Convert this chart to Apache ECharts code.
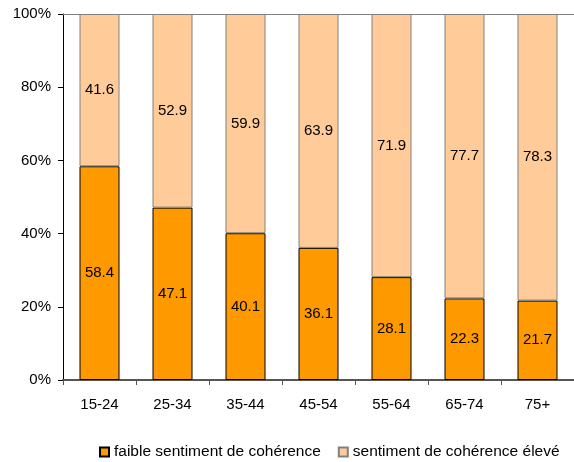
<!DOCTYPE html>
<html>
<head>
<meta charset="utf-8">
<script src="https://cdn.jsdelivr.net/npm/echarts@6/dist/echarts.min.js"></script>
<style>
  html, body { margin: 0; padding: 0; background: #fff; }
  #chart { width: 574px; height: 462px; }
</style>
</head>
<body>
<div id="chart"></div>
<script>
// Age groups and sense-of-coherence shares (%)
const ageGroups = ['15-24', '25-34', '35-44', '45-54', '55-64', '65-74', '75+'];
const faible = [58.4, 47.1, 40.1, 36.1, 28.1, 22.3, 21.7];
const eleve = [41.6, 52.9, 59.9, 63.9, 71.9, 77.7, 78.3];
const seriesNames = ['faible sentiment de cohérence', 'sentiment de cohérence élevé'];

const font = 'Liberation Sans, Arial, sans-serif';
const fs = 15;
const chart = echarts.init(document.getElementById('chart'), null, { renderer: 'canvas' });

const labelStyle = {
  show: true,
  position: 'inside',
  color: '#000',
  fontSize: fs,
  fontFamily: font,
  formatter: p => p.value.toFixed(1)
};

chart.setOption({
  animation: false,
  backgroundColor: '#fff',
  grid: { left: 63, top: 14, right: -2, bottom: 82 },
  legend: {
    top: 439,
    left: 94,
    icon: 'rect',
    itemWidth: 9,
    itemHeight: 9,
    itemGap: 17,
    textStyle: { fontSize: 15.5, fontFamily: font, color: '#000' },
    data: seriesNames
  },
  xAxis: [
    {
      type: 'category',
      data: ageGroups,
      axisLine: { lineStyle: { color: '#555', width: 2 } },
      axisTick: { show: true, length: 5, lineStyle: { color: '#555', width: 1 } },
      axisLabel: { color: '#000', fontSize: fs, fontFamily: font, margin: 17 }
    },
    {
      type: 'category',
      data: ageGroups,
      position: 'top',
      axisLine: { show: true, lineStyle: { color: '#808080', width: 1 } },
      axisTick: { show: false },
      axisLabel: { show: false }
    }
  ],
  yAxis: {
    type: 'value',
    min: 0,
    max: 100,
    interval: 20,
    axisLine: { show: true, lineStyle: { color: '#000', width: 1 } },
    axisTick: { show: true, length: 5, lineStyle: { color: '#000' } },
    splitLine: { show: false },
    axisLabel: { color: '#000', fontSize: fs, fontFamily: font, margin: 12, formatter: '{value}%' }
  },
  series: [
    {
      name: seriesNames[0],
      type: 'bar',
      stack: 'total',
      barWidth: 40,
      data: faible,
      itemStyle: { color: '#FF9900', borderColor: '#000', borderWidth: 1 },
      label: labelStyle
    },
    {
      name: seriesNames[1],
      type: 'bar',
      stack: 'total',
      barWidth: 40,
      data: eleve,
      itemStyle: { color: '#FFCC99', borderColor: '#808080', borderWidth: 1 },
      label: labelStyle
    }
  ]
});
</script>
</body>
</html>
